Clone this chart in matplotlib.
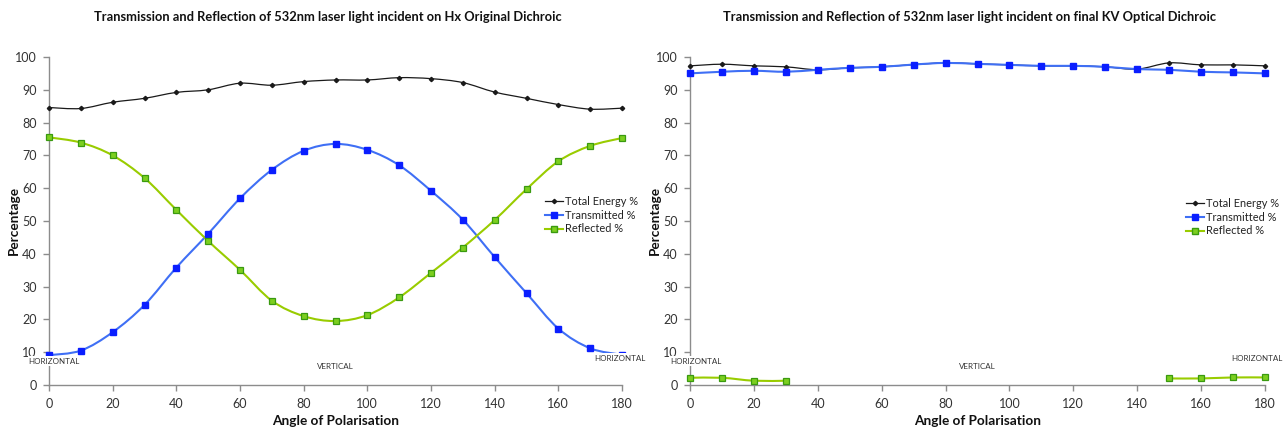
import numpy as np
import matplotlib
matplotlib.use("Agg")
import matplotlib.pyplot as plt
from matplotlib.path import Path
from matplotlib.patches import PathPatch

plt.rcParams['font.family'] = ['Lato', 'DejaVu Sans']

angles = [0, 10, 20, 30, 40, 50, 60, 70, 80, 90, 100, 110, 120, 130, 140, 150, 160, 170, 180]

# Left chart: Hx Original Dichroic
hx_total = [84.6, 84.3, 86.2, 87.4, 89.2, 90.0, 92.0, 91.4, 92.5, 93.0, 93.0, 93.7, 93.4, 92.2, 89.3, 87.4, 85.5, 84.1, 84.4]
hx_trans = [9.1, 10.5, 16.1, 24.4, 35.8, 46.1, 56.9, 65.6, 71.4, 73.5, 71.7, 67.0, 59.2, 50.4, 39.0, 28.0, 17.2, 11.2, 9.2]
hx_refl = [75.5, 73.9, 70.0, 63.1, 53.4, 43.9, 35.1, 25.7, 21.0, 19.5, 21.3, 26.7, 34.2, 41.9, 50.3, 59.7, 68.2, 72.9, 75.3]

# Right chart: final KV Optical Dichroic
kv_total = [97.3, 97.8, 97.3, 97.0, 96.1, 96.7, 97.0, 97.7, 98.2, 97.9, 97.6, 97.3, 97.3, 97.0, 96.3, 98.2, 97.6, 97.6, 97.3]
kv_trans = [95.0, 95.5, 95.8, 95.5, 96.1, 96.7, 97.0, 97.7, 98.2, 97.9, 97.6, 97.3, 97.3, 97.0, 96.3, 96.1, 95.5, 95.3, 95.0]
kv_refl = [2.2, 2.2, 1.3, 1.3, np.nan, np.nan, np.nan, np.nan, np.nan, np.nan, np.nan, np.nan, np.nan,
           np.nan, np.nan, 2.0, 2.0, 2.3, 2.3]

titles = ["Transmission and Reflection of 532nm laser light incident on Hx Original Dichroic",
          "Transmission and Reflection of 532nm laser light incident on final KV Optical Dichroic"]
series_names = ["Total Energy %", "Transmitted %", "Reflected %"]
xlabel = "Angle of Polarisation"
ylabel = "Percentage"

C_TOTAL = "#1a1a1a"
C_TRANS_LINE = "#3f6ff5"
C_TRANS_MK = "#0a1eff"
C_REFL_LINE = "#99cc00"
C_REFL_FACE = "#7ccf1f"
C_REFL_EDGE = "#3a9a10"


def smooth_path(ax, xs, ys, color, lw, z):
    xs = np.asarray(xs, float)
    ys = np.asarray(ys, float)
    ok = ~np.isnan(ys)
    segs = []
    cur = []
    for i in range(len(xs)):
        if ok[i]:
            cur.append((xs[i], ys[i]))
        else:
            if cur:
                segs.append(cur)
            cur = []
    if cur:
        segs.append(cur)
    for seg in segs:
        p = np.array(seg)
        n = len(p)
        if n < 2:
            continue
        verts = [p[0]]
        codes = [Path.MOVETO]
        for i in range(n - 1):
            pm = p[i - 1] if i > 0 else p[i]
            pp = p[i + 2] if i + 2 < n else p[i + 1]
            c1 = p[i] + (p[i + 1] - pm) / 6.0
            c2 = p[i + 1] - (pp - p[i]) / 6.0
            verts += [c1, c2, p[i + 1]]
            codes += [Path.CURVE4] * 3
        patch = PathPatch(Path(verts, codes), facecolor='none', edgecolor=color,
                          lw=lw, zorder=z, transform=ax.transData, clip_on=False)
        ax.add_patch(patch)


W, H = 1283, 430
fig = plt.figure(figsize=(W / 100, H / 100), dpi=100)

axes_px = [(49, 622), (690, 1265)]
top_px, bot_px = 57, 385

datasets = [(hx_total, hx_trans, hx_refl), (kv_total, kv_trans, kv_refl)]
legend_pos = [(545, 196), (1186, 198)]
labels_pos = [
    [(1.7, 7.3, "HORIZONTAL"), (90, 5.5, "VERTICAL"), (179.5, 8.2, "HORIZONTAL")],
    [(1.9, 7.3, "HORIZONTAL"), (89.9, 5.5, "VERTICAL"), (177.6, 8.2, "HORIZONTAL")],
]

for k in range(2):
    x0, x1 = axes_px[k]
    ax = fig.add_axes([x0 / W, 1 - bot_px / H, (x1 - x0) / W, (bot_px - top_px) / H])
    ax.set_xlim(0, 180)
    ax.set_ylim(0, 100)
    ax.set_xticks(range(0, 181, 20))
    ax.set_yticks(range(0, 101, 10))
    for s in ['top', 'right']:
        ax.spines[s].set_visible(False)
    for s in ['left', 'bottom']:
        ax.spines[s].set_color('#8c8c8c')
        ax.spines[s].set_linewidth(1.0)
    ax.tick_params(axis='both', direction='out', length=4, width=1, color='#8c8c8c',
                   labelsize=9, labelcolor='#333333', pad=5)
    ax.patch.set_visible(False)

    total, trans, refl = datasets[k]
    smooth_path(ax, angles, total, C_TOTAL, 0.9, 3)
    smooth_path(ax, angles, trans, C_TRANS_LINE, 1.5, 3)
    smooth_path(ax, angles, refl, C_REFL_LINE, 1.5, 3)
    ax.plot(angles, total, ls='none', marker='D', ms=2.2, color=C_TOTAL, zorder=4, clip_on=False)
    ax.plot(angles, trans, ls='none', marker='s', ms=3.7, color=C_TRANS_MK, zorder=4, clip_on=False)
    ax.plot(angles, refl, ls='none', marker='s', ms=3.7, mfc=C_REFL_FACE, mec=C_REFL_EDGE,
            mew=0.9, zorder=4, clip_on=False)

    p1, = ax.plot([], [], color=C_TOTAL, lw=0.9, marker='D', ms=2.2)
    p2, = ax.plot([], [], color=C_TRANS_LINE, lw=1.5, marker='s', ms=3.7, mfc=C_TRANS_MK, mec=C_TRANS_MK)
    p3, = ax.plot([], [], color=C_REFL_LINE, lw=1.5, marker='s', ms=3.7, mfc=C_REFL_FACE, mec=C_REFL_EDGE)
    lx, ly = legend_pos[k]
    fig.legend([p1, p2, p3], series_names, loc='upper left',
               bbox_to_anchor=(lx / W, 1 - ly / H), frameon=False, fontsize=7.9,
               handlelength=1.6, handletextpad=0.2, labelspacing=0.25, borderpad=0.0,
               borderaxespad=0.0, labelcolor='#222222')

    for (xv, yv, txt) in labels_pos[k]:
        ax.text(xv, yv, txt, fontsize=5.8, color='#333333', ha='center', va='center', zorder=6,
                clip_on=False, bbox=dict(boxstyle='square,pad=0.15', fc='white', ec='none'))

    cx = (x0 + x1) / 2
    fig.text(cx / W - 0.006, 1 - 17 / H, titles[k], ha='center', va='center', fontsize=9.3,
             fontweight='bold', color='#111111')
    fig.text(cx / W, 1 - 421 / H, xlabel, ha='center', va='center', fontsize=9.8,
             fontweight='bold', color='#111111')
    fig.text((x0 - 35) / W, 1 - 221 / H, ylabel, ha='center', va='center', rotation=90,
             fontsize=9.8, fontweight='bold', color='#111111')

fig.savefig("out.png", dpi=100)
